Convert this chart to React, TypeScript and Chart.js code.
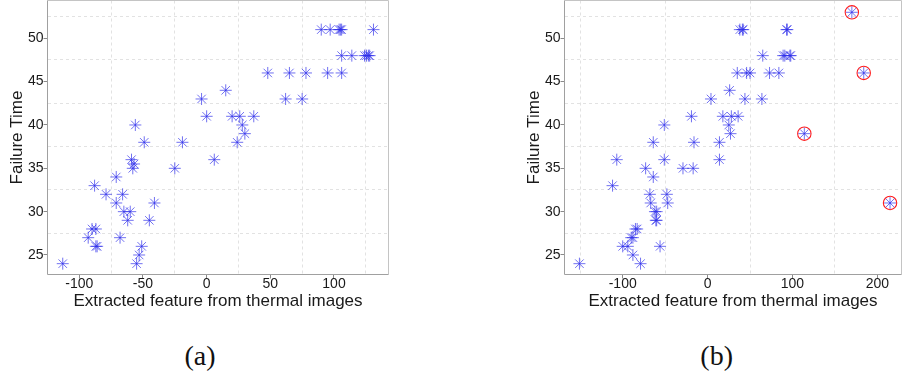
import React, { useEffect, useRef } from "react";
import { Chart, registerables } from "chart.js";

Chart.register(...registerables);

// ---------- Data ----------
// Panel (a)
const aX = [
  90, 97, 104, 105, 106, 131,
  106, 114, 124, 125.5, 127, 128,
  48, 65, 78, 95, 106,
  15,
  -4, 62, 75,
  0, 20, 26, 37,
  -56, 28,
  30,
  -49, -19, 24,
  -59, 6,
  -57,
  -58, -25,
  -71,
  -88,
  -79, -66,
  -71, -41,
  -65, -60,
  -62, -45,
  -90, -87,
  -93, -68,
  -87, -86, -51,
  -53,
  -113, -55,
];
const aY = [
  51, 51, 51, 51, 51, 51,
  48, 48, 48, 48, 48, 48,
  46, 46, 46, 46, 46,
  44,
  43, 43, 43,
  41, 41, 41, 41,
  40, 40,
  39,
  38, 38, 38,
  36, 36,
  35.5,
  35, 35,
  34,
  33,
  32, 32,
  31, 31,
  30, 30,
  29, 29,
  28, 28,
  27, 27,
  26, 26, 26,
  25,
  24, 24,
];

// Panel (b)
const bX = [
  38, 41, 42, 93, 94,
  65, 89, 91, 97, 98,
  35, 46, 50, 73, 84,
  26,
  4, 44, 64,
  -19, 18, 28, 36,
  -51, 25,
  27,
  -64, -16, 14,
  -107, -51, 14,
  -73, -29, -17,
  -64,
  -112,
  -68, -48,
  -67, -47,
  -62, -60,
  -61, -60,
  -85, -83,
  -90, -88,
  -100, -94, -56,
  -88,
  -151, -79,
];
const bY = [
  51, 51, 51, 51, 51,
  48, 48, 48, 48, 48,
  46, 46, 46, 46, 46,
  44,
  43, 43, 43,
  41, 41, 41, 41,
  40, 40,
  39,
  38, 38, 38,
  36, 36, 36,
  35, 35, 35,
  34,
  33,
  32, 32,
  31, 31,
  30, 30,
  29, 29,
  28, 28,
  27, 27,
  26, 26, 26,
  25,
  24, 24,
];
// circled outliers in panel (b)
const outX = [170, 184, 114, 215];
const outY = [53, 46, 39, 31];

// Tick / grid values
const aXTicks = [-100, -75, -50, -25, 0, 25, 50, 75, 100, 125];
const bXTicks = [-150, -100, -50, 0, 50, 100, 150, 200];
const yTicks = [25, 27.5, 30, 32.5, 35, 37.5, 40, 42.5, 45, 47.5, 50, 52.5];

const X_TITLE = "Extracted feature from thermal images";
const Y_TITLE = "Failure Time";

// ---------- Styling ----------
const FONT = "'Liberation Sans', Arial, Helvetica, sans-serif";
const STAR = "rgba(45,45,235,0.68)";
const RED = "rgba(255,30,30,1)";
const GRID = "#e2e2e2";
const TRANSPARENT = "rgba(0,0,0,0)";
const TEXT = "#1a1a1a";

const isMajor = (v: number, step: number) =>
  Math.abs(v / step - Math.round(v / step)) < 1e-6;

const boxPlugin = {
  id: "panelBox",
  afterDraw(chart: any) {
    const { ctx, chartArea: a } = chart;
    ctx.save();
    ctx.setLineDash([]);
    ctx.lineWidth = 1;
    ctx.strokeStyle = "#c4c4c4";
    ctx.beginPath();
    ctx.moveTo(a.left, a.top);
    ctx.lineTo(a.right, a.top);
    ctx.lineTo(a.right, a.bottom);
    ctx.stroke();
    ctx.strokeStyle = "#a0a0a0";
    ctx.beginPath();
    ctx.moveTo(a.left, a.top);
    ctx.lineTo(a.left, a.bottom);
    ctx.lineTo(a.right, a.bottom);
    ctx.stroke();
    ctx.restore();
  },
};

type PanelProps = {
  left: number;
  width: number;
  padLeft: number;
  padRight: number;
  xMin: number;
  xMax: number;
  xTicks: number[];
  xStep: number;
  xs: number[];
  ys: number[];
  circX?: number[];
  circY?: number[];
};

const CANVAS_H = 320;

function Panel(p: PanelProps) {
  const ref = useRef<HTMLCanvasElement | null>(null);
  useEffect(() => {
    if (!ref.current) return;
    const datasets: any[] = [
      {
        data: p.xs.map((x, i) => ({ x, y: p.ys[i] })),
        pointStyle: "star",
        radius: 6,
        borderColor: STAR,
        backgroundColor: STAR,
        borderWidth: 1,
      },
    ];
    if (p.circX && p.circY) {
      const cy = p.circY;
      datasets[0].data = datasets[0].data.concat(
        p.circX.map((x, i) => ({ x, y: cy[i] }))
      );
      datasets.push({
        data: p.circX.map((x, i) => ({ x, y: cy[i] })),
        pointStyle: "circle",
        radius: 6.7,
        borderColor: RED,
        backgroundColor: TRANSPARENT,
        borderWidth: 1.1,
      });
    }
    const chart = new Chart(ref.current, {
      type: "scatter",
      data: { datasets },
      plugins: [boxPlugin],
      options: {
        animation: false,
        responsive: false,
        events: [],
        layout: {
          autoPadding: false,
          padding: { left: p.padLeft, right: p.padRight, top: 0.5, bottom: 0 },
        },
        plugins: { legend: { display: false }, tooltip: { enabled: false } },
        scales: {
          x: {
            type: "linear",
            min: p.xMin,
            max: p.xMax,
            afterBuildTicks: (s: any) => {
              s.ticks = p.xTicks.map((v) => ({ value: v }));
            },
            afterFit: (s: any) => {
              s.height = 45.5;
              s.paddingLeft = 0;
              s.paddingRight = 0;
            },
            border: { display: false, dash: [3, 3] },
            grid: {
              lineWidth: 1,
              tickLength: 4,
              color: (c: any) =>
                c.tick && !isMajor(c.tick.value, p.xStep) ? GRID : TRANSPARENT,
              tickColor: (c: any) =>
                c.tick && isMajor(c.tick.value, p.xStep) ? "#8a8a8a" : TRANSPARENT,
            },
            ticks: {
              autoSkip: false,
              maxRotation: 0,
              padding: -1,
              color: TEXT,
              font: { family: FONT, size: 14, lineHeight: 1 },
              callback: (v: any) => (isMajor(Number(v), p.xStep) ? String(v) : ""),
            },
            title: {
              display: true,
              text: X_TITLE,
              color: TEXT,
              font: { family: FONT, size: 17 },
              padding: { top: 0, bottom: 8.4 },
            },
          },
          y: {
            type: "linear",
            min: 22.75,
            max: 54.36,
            afterBuildTicks: (s: any) => {
              s.ticks = yTicks.map((v) => ({ value: v }));
            },
            afterFit: (s: any) => {
              s.width = 47.5;
              s.paddingTop = 0;
              s.paddingBottom = 0;
            },
            border: { display: false, dash: [3, 3] },
            grid: {
              lineWidth: 1,
              tickLength: 4,
              color: (c: any) =>
                c.tick && !isMajor(c.tick.value, 5) ? GRID : TRANSPARENT,
              tickColor: (c: any) =>
                c.tick && isMajor(c.tick.value, 5) ? "#8a8a8a" : TRANSPARENT,
            },
            ticks: {
              autoSkip: false,
              padding: 0,
              color: TEXT,
              font: { family: FONT, size: 14, lineHeight: 1 },
              callback: (v: any) => (isMajor(Number(v), 5) ? String(v) : ""),
            },
            title: {
              display: true,
              text: Y_TITLE,
              color: TEXT,
              font: { family: FONT, size: 17 },
              padding: { top: 7.3, bottom: 0 },
            },
          },
        },
      } as any,
    });
    return () => chart.destroy();
  }, []);
  return (
    <canvas
      ref={ref}
      width={p.width}
      height={CANVAS_H}
      style={{ position: "absolute", left: p.left, top: 0, width: p.width, height: CANVAS_H }}
    />
  );
}

const captionStyle = (cx: number): React.CSSProperties => ({
  position: "absolute",
  left: cx - 50,
  top: 341.5,
  width: 100,
  textAlign: "center",
  fontFamily: "'Liberation Serif', 'Times New Roman', serif",
  fontSize: 28,
  lineHeight: "28px",
  color: "#111",
});

export default function App() {
  return (
    <div
      style={{
        position: "absolute",
        left: 0,
        top: 0,
        width: 902,
        height: 375,
        background: "#fff",
        overflow: "hidden",
      }}
    >
      <Panel
        left={0}
        width={450}
        padLeft={0}
        padRight={61.5}
        xMin={-124.97}
        xMax={142.8}
        xTicks={aXTicks}
        xStep={50}
        xs={aX}
        ys={aY}
      />
      <Panel
        left={450}
        width={452}
        padLeft={67}
        padRight={0.5}
        xMin={-168.6}
        xMax={228.5}
        xTicks={bXTicks}
        xStep={100}
        xs={bX}
        ys={bY}
        circX={outX}
        circY={outY}
      />
      <div style={captionStyle(200)}>(a)</div>
      <div style={captionStyle(716.7)}>(b)</div>
    </div>
  );
}
